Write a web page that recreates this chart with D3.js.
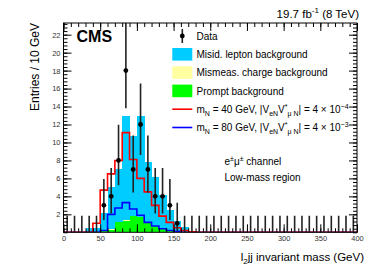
<!DOCTYPE html>
<html>
<head>
<meta charset="utf-8">
<script src="https://cdn.jsdelivr.net/npm/d3@7"></script>
<style>
body { margin: 0; background: #fff; }
text { font-family: "Liberation Sans", Arial, sans-serif; }
</style>
</head>
<body>
<div id="container"></div>
<script>
/* CONSTANTS AND GLOBALS */
const width = 374,
  height = 274,
  margin = { top: 23, bottom: 42, left: 63.5, right: 17 };

/* DATA (10 GeV bins) */
// stacked backgrounds, bins 0-10 ... 170-180
const histBins = [0, 10, 20, 30, 40, 50, 60, 70, 80, 90, 100, 110, 120, 130, 140, 150, 160, 170];
const prompt   = [0, 0, 0, 0, 0, 0.1, 0.3, 1.1, 1.3, 1.8, 1.7, 1.1, 0.7, 0.45, 0.25, 0.15, 0, 0];
const mismeas  = [0, 0, 0, 0, 0, 0, 0.05, 0.05, 0.1, 0.05, 0.05, 0.05, 0.05, 0.05, 0.05, 0.05, 0, 0];
const misid    = [0, 0, 0, 0.5, 0.5, 2.0, 4.65, 5.85, 11.6, 8.85, 11.25, 6.65, 5.45, 3.7, 2.2, 1.1, 0.6, 0];
// signals
const sig40 = [0, 0, 0, 0, 1.0, 4.7, 6.5, 8.0, 11.1, 8.1, 6.0, 4.5, 3.0, 1.8, 1.1, 0.5, 0.2, 0.05];
const sig80 = [0, 0, 0, 0, 0, 0.2, 2.0, 2.7, 3.3, 2.6, 1.9, 1.1, 0.7, 0.4, 0.2, 0.1, 0, 0];

// data, bin centres 5 ... 395
const dataCenters = d3.range(5, 400, 10);
const dataCounts = [0, 0, 0, 0, 0, 3, 4, 8, 18, 7, 12, 7, 4, 4, 3, 1,
  0, 0, 0, 0, 0, 0, 0, 0, 0, 0, 0, 0, 0, 0, 0, 0, 0, 0, 0, 0, 0, 0, 0, 0];
const dataErrLo = [0, 0, 0, 0, 0, 1.63, 1.91, 2.77, 4.2, 2.58, 3.4, 2.58, 1.91, 1.91, 1.63, 0.83,
  0, 0, 0, 0, 0, 0, 0, 0, 0, 0, 0, 0, 0, 0, 0, 0, 0, 0, 0, 0, 0, 0, 0, 0];
const dataErrHi = [1.84, 1.84, 1.84, 1.84, 1.84, 2.92, 3.16, 3.98, 5.35, 3.77, 4.56, 3.77, 3.16, 3.16, 2.92, 2.3,
  1.84, 1.84, 1.84, 1.84, 1.84, 1.84, 1.84, 1.84, 1.84, 1.84, 1.84, 1.84, 1.84, 1.84, 1.84, 1.84,
  1.84, 1.84, 1.84, 1.84, 1.84, 1.84, 1.84, 1.84];

const xMajor = [0, 50, 100, 150, 200, 250, 300, 350, 400];
const yMajor = [2, 4, 6, 8, 10, 12, 14, 16, 18, 20, 22];

const colors = { misid: "#00ccff", mismeas: "#ffffa0", prompt: "#00ff00", sig40: "#ff0000", sig80: "#0000ff" };

const svg = d3.select("#container")
  .append("svg")
  .attr("width", width)
  .attr("height", height)
  .style("background-color", "#fff");

// SCALES
const x = d3.scaleLinear().domain([0, 400]).range([margin.left, width - margin.right]);
const y = d3.scaleLinear().domain([0, 23.3]).range([height - margin.bottom + 0.3, margin.top]);

const yBottom = y(0), yTop = y(23.3), xLeft = x(0), xRight = x(400);

svg.append("clipPath").attr("id", "frame")
  .append("rect")
  .attr("x", xLeft).attr("y", yTop)
  .attr("width", xRight - xLeft).attr("height", yBottom - yTop);

const plot = svg.append("g").attr("clip-path", "url(#frame)");

// STACKED BACKGROUNDS
const table = histBins.map((b, i) => ({ bin: b, prompt: prompt[i], mismeas: mismeas[i], misid: misid[i] }));
const stack = d3.stack().keys(["prompt", "mismeas", "misid"])(table);

plot.selectAll("g.layer")
  .data(stack)
  .join("g")
  .attr("class", "layer")
  .attr("fill", d => colors[d.key])
  .selectAll("rect")
  .data(d => d.filter(s => s[1] > s[0]))
  .join("rect")
  .attr("shape-rendering", "crispEdges")
  .attr("x", d => x(d.data.bin))
  .attr("width", x(10) - x(0) + 0.3)
  .attr("y", d => y(d[1]))
  .attr("height", d => y(d[0]) - y(d[1]));

// SIGNAL STEP LINES
const stepLine = d3.line()
  .x(d => x(d[0]))
  .y(d => y(d[1]))
  .curve(d3.curveStepAfter);

[["sig80", sig80], ["sig40", sig40]].forEach(([key, vals]) => {
  const pts = histBins.map((b, i) => [b, vals[i]]);
  pts.push([180, 0], [400, 0]);
  plot.append("path")
    .attr("d", stepLine(pts))
    .attr("fill", "none")
    .attr("stroke", colors[key])
    .attr("stroke-width", 1.6);
});

// DATA
const data = dataCenters.map((c, i) => ({ c, n: dataCounts[i], lo: dataErrLo[i], hi: dataErrHi[i] }));

plot.selectAll("line.err")
  .data(data)
  .join("line")
  .attr("class", "err")
  .attr("x1", d => x(d.c)).attr("x2", d => x(d.c))
  .attr("y1", d => y(d.n - d.lo)).attr("y2", d => y(d.n + d.hi))
  .attr("stroke", "#222")
  .attr("stroke-width", 1.6);

plot.selectAll("circle.pt")
  .data(data.filter(d => d.n > 0))
  .join("circle")
  .attr("class", "pt")
  .attr("cx", d => x(d.c)).attr("cy", d => y(d.n))
  .attr("r", 2.4)
  .attr("fill", "#000");

// AXES (ticks inside on all four sides)
function styleAxis(g) {
  g.select(".domain").remove();
  g.selectAll(".tick line").attr("stroke", "#000");
  g.selectAll("text").style("font-size", "7.5px").attr("fill", "#333");
}

svg.append("g").attr("transform", `translate(0,${yBottom})`)
  .call(d3.axisBottom(x).tickValues(xMajor).tickSize(-8).tickPadding(3).tickFormat(d3.format("d"))).call(styleAxis);
svg.append("g").attr("transform", `translate(0,${yBottom})`)
  .call(d3.axisBottom(x).tickValues(d3.range(0, 401, 10)).tickSize(-4).tickFormat("")).call(styleAxis);
svg.append("g").attr("transform", `translate(0,${yTop})`)
  .call(d3.axisTop(x).tickValues(xMajor).tickSize(-8).tickFormat("")).call(styleAxis);
svg.append("g").attr("transform", `translate(0,${yTop})`)
  .call(d3.axisTop(x).tickValues(d3.range(0, 401, 10)).tickSize(-4).tickFormat("")).call(styleAxis);

svg.append("g").attr("transform", `translate(${xLeft},0)`)
  .call(d3.axisLeft(y).tickValues(yMajor).tickSize(-8).tickPadding(3).tickFormat(d3.format("d"))).call(styleAxis);
svg.append("g").attr("transform", `translate(${xLeft},0)`)
  .call(d3.axisLeft(y).tickValues(d3.range(0, 23.3, 0.4)).tickSize(-4).tickFormat("")).call(styleAxis);
svg.append("g").attr("transform", `translate(${xRight},0)`)
  .call(d3.axisRight(y).tickValues(yMajor).tickSize(-8).tickFormat("")).call(styleAxis);
svg.append("g").attr("transform", `translate(${xRight},0)`)
  .call(d3.axisRight(y).tickValues(d3.range(0, 23.3, 0.4)).tickSize(-4).tickFormat("")).call(styleAxis);

// frame
svg.append("rect")
  .attr("x", xLeft).attr("y", yTop)
  .attr("width", xRight - xLeft).attr("height", yBottom - yTop)
  .attr("fill", "none").attr("stroke", "#000").attr("stroke-width", 1);

// RICH TEXT HELPER (sub / superscripts)
function rich(sel, parts, fs) {
  let shift = 0;
  parts.forEach(([t, m]) => {
    const target = m === "sub" ? fs * 0.3 : m === "sup" ? -fs * 0.4 : 0;
    sel.append("tspan")
      .attr("dy", target - shift)
      .style("font-size", (m ? fs * 0.7 : fs) + "px")
      .text(t);
    shift = target;
  });
}

// TITLES
svg.append("text")
  .attr("transform", `translate(38.5,${yTop}) rotate(-90)`)
  .attr("text-anchor", "end")
  .style("font-size", "12px")
  .text("Entries / 10 GeV");

rich(svg.append("text").attr("x", 364).attr("y", 261).attr("text-anchor", "end"),
  [["l", ""], ["2", "sub"], ["jj invariant mass (GeV)", ""]], 11.5);

rich(svg.append("text").attr("x", 359).attr("y", 17.5).attr("text-anchor", "end"),
  [["19.7 fb", ""], ["-1", "sup"], [" (8 TeV)", ""]], 11.5);

svg.append("text")
  .attr("x", 76.5).attr("y", 42.3)
  .style("font-size", "16px").style("font-weight", "bold")
  .text("CMS");

rich(svg.append("text").attr("x", 224.5).attr("y", 164.6),
  [["e", ""], ["\u00b1", "sup"], ["\u03bc", ""], ["\u00b1", "sup"], [" channel", ""]], 10);
svg.append("text").attr("x", 224.5).attr("y", 181.3).style("font-size", "10px").text("Low-mass region");

// LEGEND
const legX = 172.3, legW = 20, textX = 196.5, rowY = i => 36 + i * 18.3, fs = 10;

svg.append("line")
  .attr("x1", legX + legW / 2).attr("x2", legX + legW / 2)
  .attr("y1", rowY(0) - 7).attr("y2", rowY(0) + 7)
  .attr("stroke", "#222").attr("stroke-width", 1.6);
svg.append("circle").attr("cx", legX + legW / 2).attr("cy", rowY(0)).attr("r", 2.4).attr("fill", "#000");
svg.append("text").attr("x", textX).attr("y", rowY(0) + 3.6).style("font-size", fs + "px").text("Data");

const boxItems = [
  ["misid", "Misid. lepton background"],
  ["mismeas", "Mismeas. charge background"],
  ["prompt", "Prompt background"]
];
boxItems.forEach(([key, label], i) => {
  svg.append("rect")
    .attr("x", legX).attr("y", rowY(i + 1) - 6.3)
    .attr("width", legW).attr("height", 12.6)
    .attr("fill", colors[key]);
  svg.append("text").attr("x", textX).attr("y", rowY(i + 1) + 3.6).style("font-size", fs + "px").text(label);
});

const lineItems = [
  ["sig40", "40", "4", "\u22124"],
  ["sig80", "80", "4", "\u22123"]
];
lineItems.forEach(([key, mass, coef, pow], i) => {
  const yy = rowY(i + 4);
  svg.append("line")
    .attr("x1", legX).attr("x2", legX + legW)
    .attr("y1", yy).attr("y2", yy)
    .attr("stroke", colors[key]).attr("stroke-width", 1.6);
  rich(svg.append("text").attr("x", textX).attr("y", yy + 3.6), [
    ["m", ""], ["N", "sub"], [` = ${mass} GeV, |V`, ""], ["eN", "sub"], ["V", ""], ["*", "sup"], ["\u03bc N", "sub"],
    [`| = ${coef} \u00d7 10`, ""], [pow, "sup"]
  ], fs);
});
</script>
</body>
</html>
